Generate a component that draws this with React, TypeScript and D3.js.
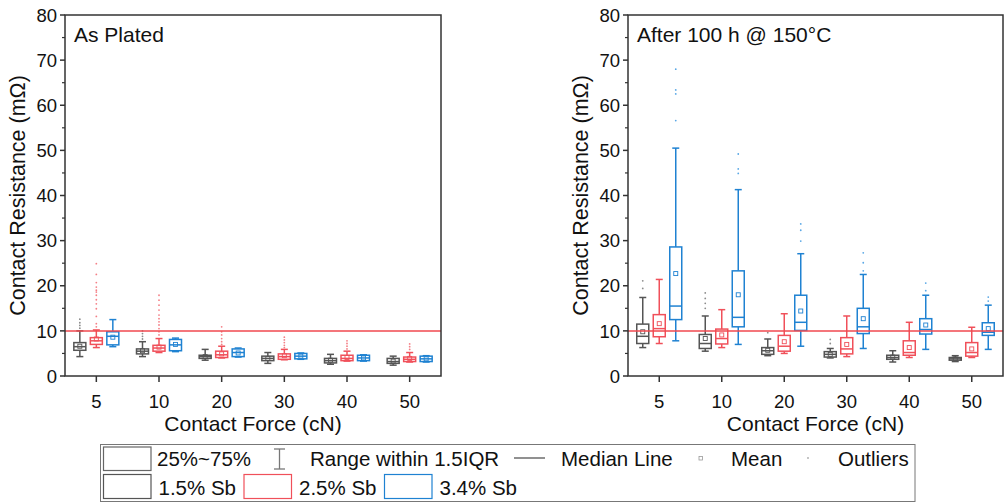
import React from "react";
import * as d3 from "d3";

const forces = ["5", "10", "20", "30", "40", "50"];
const seriesNames = ["1.5% Sb", "2.5% Sb", "3.4% Sb"];
const seriesColors = ["#555555", "#f0505a", "#1f82d2"];
const outlierColors = ["#8c8c8c", "#f47f86", "#5aa8e6"];
const yTicks = [0, 10, 20, 30, 40, 50, 60, 70, 80];
const yMinorTicks = [5, 15, 25, 35, 45, 55, 65, 75];
const thresholdValue = 10;

// each row: [lowWhisker, q1, median, q3, highWhisker, mean] per contact force
const plated15 = [
  [4.3, 5.7, 6.5, 7.4, 10.0, 6.6],
  [4.3, 4.9, 5.5, 6.0, 7.6, 5.6],
  [3.5, 3.9, 4.3, 4.6, 5.9, 4.3],
  [2.8, 3.4, 3.9, 4.4, 5.2, 3.9],
  [2.6, 2.9, 3.4, 3.9, 4.8, 3.5],
  [2.4, 2.8, 3.2, 3.9, 4.4, 3.3],
];
const plated25 = [
  [6.3, 7.0, 7.8, 8.5, 10.2, 8.2],
  [5.2, 5.5, 6.2, 6.8, 8.3, 6.4],
  [4.0, 4.1, 4.7, 5.5, 6.6, 4.9],
  [3.6, 3.7, 4.3, 4.9, 5.9, 4.5],
  [3.3, 3.4, 3.9, 4.6, 5.5, 4.1],
  [3.1, 3.2, 3.7, 4.2, 5.2, 3.9],
];
const plated34 = [
  [6.5, 6.9, 8.8, 9.8, 12.5, 8.6],
  [5.4, 5.6, 6.9, 8.1, 8.4, 7.0],
  [4.2, 4.3, 5.2, 6.0, 6.2, 5.1],
  [3.7, 3.8, 4.4, 5.0, 5.1, 4.4],
  [3.3, 3.4, 4.0, 4.6, 4.7, 4.0],
  [3.1, 3.2, 3.8, 4.4, 4.5, 3.8],
];
const platedOut15 = [
  [10.6, 11.2, 11.8, 12.6],
  [8.2, 8.8, 9.4, 10.0],
  [],
  [],
  [],
  [],
];
const platedOut25 = [
  [10.9, 11.6, 13.2, 14.9, 16.0, 16.9, 17.9, 18.6, 19.0, 19.7, 20.7, 22.5, 24.9],
  [9.1, 9.8, 10.5, 11.3, 12.0, 12.7, 13.5, 14.6, 15.7, 16.8, 17.9],
  [7.0, 7.6, 8.3, 9.1, 9.8, 10.9],
  [6.3, 6.8, 7.4, 8.0, 8.6],
  [6.0, 6.6, 7.2, 7.8],
  [5.9, 6.5, 7.1],
];
const platedOut34 = [[], [], [], [], [], []];

const aged15 = [
  [6.3, 7.2, 8.8, 11.5, 17.4, 9.8],
  [5.5, 6.1, 7.2, 9.2, 13.3, 8.3],
  [4.5, 4.8, 5.6, 6.3, 8.2, 5.7],
  [4.0, 4.2, 4.8, 5.4, 6.1, 4.8],
  [3.1, 3.7, 4.1, 4.6, 5.6, 4.2],
  [3.2, 3.5, 3.8, 4.1, 4.5, 3.8],
];
const aged25 = [
  [7.2, 8.7, 10.5, 13.6, 21.4, 11.6],
  [6.3, 7.1, 8.3, 10.4, 14.7, 9.1],
  [5.0, 5.5, 6.6, 9.0, 13.8, 7.6],
  [4.3, 4.9, 6.0, 8.5, 13.3, 7.0],
  [4.1, 4.6, 5.2, 7.8, 11.9, 6.3],
  [4.1, 4.4, 5.2, 7.4, 10.8, 6.0],
];
const aged34 = [
  [7.8, 12.5, 15.5, 28.6, 50.5, 22.7],
  [7.0, 10.9, 13.0, 23.3, 41.3, 18.0],
  [6.6, 10.1, 11.9, 17.9, 27.1, 14.4],
  [6.1, 9.4, 10.9, 15.0, 22.5, 12.7],
  [5.9, 9.3, 10.3, 12.7, 17.9, 11.3],
  [5.9, 9.0, 9.7, 11.8, 15.7, 10.5],
];
const agedOut15 = [
  [19.4, 21.1],
  [15.0, 16.1, 17.2, 18.4],
  [9.6],
  [7.2, 8.1],
  [],
  [],
];
const agedOut25 = [[], [], [], [], [], []];
const agedOut34 = [
  [56.6, 62.5, 63.4, 68.0],
  [44.9, 45.9, 49.2],
  [29.9, 32.3, 33.7],
  [23.3, 25.1, 27.3],
  [18.9, 20.6],
  [16.6, 17.5],
];

const FONT = "Arial, 'Liberation Sans', sans-serif";
const AXIS = "#333333";

type PanelProps = {
  x0: number;
  x1: number;
  title: string;
  stats: number[][][];
  outliers: number[][][];
};

const TOP = 15;
const BOTTOM = 376;
const groupOffsets = [-16.5, 0, 16.5];
const boxW = 12;
const capW = 7;

function Panel({ x0, x1, title, stats, outliers }: PanelProps) {
  const y = d3.scaleLinear().domain([0, 80]).range([BOTTOM, TOP]);
  const x = d3.scaleBand().domain(forces).range([x0, x1]).padding(0);
  const cx = (f: string) => (x(f) as number) + x.bandwidth() / 2;

  return (
    <g>
      {stats.map((ser, si) =>
        ser.map((s, fi) => {
          const c = cx(forces[fi]) + groupOffsets[si];
          const [lo, q1, med, q3, hi, mean] = s;
          const col = seriesColors[si];
          return (
            <g key={`b${si}-${fi}`} stroke={col} strokeWidth={1.5} fill="none">
              <line x1={c} x2={c} y1={y(hi)} y2={y(q3)} />
              <line x1={c} x2={c} y1={y(q1)} y2={y(lo)} />
              <line x1={c - capW / 2} x2={c + capW / 2} y1={y(hi)} y2={y(hi)} />
              <line x1={c - capW / 2} x2={c + capW / 2} y1={y(lo)} y2={y(lo)} />
              <rect x={c - boxW / 2} y={y(q3)} width={boxW} height={Math.max(0.5, y(q1) - y(q3))} fill="white" />
              <line x1={c - boxW / 2} x2={c + boxW / 2} y1={y(med)} y2={y(med)} />
              <rect x={c - 2} y={y(mean) - 2} width={4} height={4} strokeWidth={0.9} fill="none" />
            </g>
          );
        })
      )}
      {outliers.map((ser, si) =>
        ser.map((vals, fi) =>
          vals.map((v, k) => (
            <circle
              key={`o${si}-${fi}-${k}`}
              cx={cx(forces[fi]) + groupOffsets[si]}
              cy={y(v)}
              r={0.9}
              fill={outlierColors[si]}
            />
          ))
        )
      )}
      <line x1={x0} x2={x1} y1={y(thresholdValue)} y2={y(thresholdValue)} stroke="#f0484f" strokeWidth={1.5} />
      <rect x={x0} y={TOP} width={x1 - x0} height={BOTTOM - TOP} fill="none" stroke={AXIS} strokeWidth={1.5} />
      {yTicks.map((t) => (
        <g key={`yt${t}`}>
          <line x1={x0 - 5} x2={x0} y1={y(t)} y2={y(t)} stroke={AXIS} strokeWidth={1.5} />
          <text x={x0 - 8} y={y(t)} dy="0.36em" textAnchor="end" fontSize={18.5} fontFamily={FONT} fill="#111">
            {t}
          </text>
        </g>
      ))}
      {yMinorTicks.map((t) => (
        <line key={`ym${t}`} x1={x0 - 3} x2={x0} y1={y(t)} y2={y(t)} stroke={AXIS} strokeWidth={1.2} />
      ))}
      {forces.map((f) => (
        <g key={`xt${f}`}>
          <line x1={cx(f)} x2={cx(f)} y1={BOTTOM} y2={BOTTOM + 6} stroke={AXIS} strokeWidth={1.5} />
          <text x={cx(f)} y={408} textAnchor="middle" fontSize={18.5} fontFamily={FONT} fill="#111">
            {f}
          </text>
        </g>
      ))}
      <text x={(x0 + x1) / 2} y={431} textAnchor="middle" fontSize={21} fontFamily={FONT} fill="#111">
        Contact Force (cN)
      </text>
      <text
        transform={`translate(${x0 - 40},${(TOP + BOTTOM) / 2}) rotate(-90)`}
        textAnchor="middle"
        fontSize={21.5}
        fontFamily={FONT}
        fill="#111"
      >
        Contact Resistance (mΩ)
      </text>
      <text x={x0 + 9} y={42} fontSize={21} fontFamily={FONT} fill="#111">
        {title}
      </text>
    </g>
  );
}

function Legend() {
  const fs = 20.5;
  const row1 = 466;
  const row2 = 495;
  return (
    <g fontFamily={FONT} fontSize={fs} fill="#111">
      <rect x={100.5} y={444.5} width={814.5} height={57} fill="none" stroke="#777" strokeWidth={1} />
      <rect x={103.5} y={447} width={47.5} height={23.5} fill="none" stroke="#666" strokeWidth={1.2} />
      <text x={157} y={row1}>25%~75%</text>
      <g stroke="#777" strokeWidth={1.3}>
        <line x1={279.5} x2={279.5} y1={449} y2={469} />
        <line x1={274} x2={285} y1={449} y2={449} />
        <line x1={274} x2={285} y1={469} y2={469} />
      </g>
      <text x={310} y={row1}>Range within 1.5IQR</text>
      <line x1={514} x2={545} y1={458} y2={458} stroke="#555" strokeWidth={1.3} />
      <text x={561} y={row1}>Median Line</text>
      <rect x={699} y={456.5} width={3.5} height={3.5} fill="none" stroke="#999" strokeWidth={0.8} />
      <text x={731} y={row1}>Mean</text>
      <circle cx={808} cy={458} r={0.9} fill="#aaa" />
      <text x={838} y={row1}>Outliers</text>

      {seriesNames.map((n, i) => {
        const sx = [103.5, 244, 384.5][i];
        return (
          <g key={n}>
            <rect x={sx} y={474.5} width={47.5} height={24} fill="none" stroke={seriesColors[i]} strokeWidth={1.2} />
            <text x={sx + 55} y={row2}>{n}</text>
          </g>
        );
      })}
    </g>
  );
}

export default function App() {
  return (
    <svg
      width={1004}
      height={502}
      style={{ position: "absolute", left: 0, top: 0, background: "white" }}
    >
      <rect x={0} y={0} width={1004} height={502} fill="white" />
      <Panel x0={65} x1={441} title="As Plated" stats={[plated15, plated25, plated34]} outliers={[platedOut15, platedOut25, platedOut34]} />
      <Panel x0={628} x1={1003} title="After 100 h @ 150°C" stats={[aged15, aged25, aged34]} outliers={[agedOut15, agedOut25, agedOut34]} />
      <Legend />
    </svg>
  );
}
